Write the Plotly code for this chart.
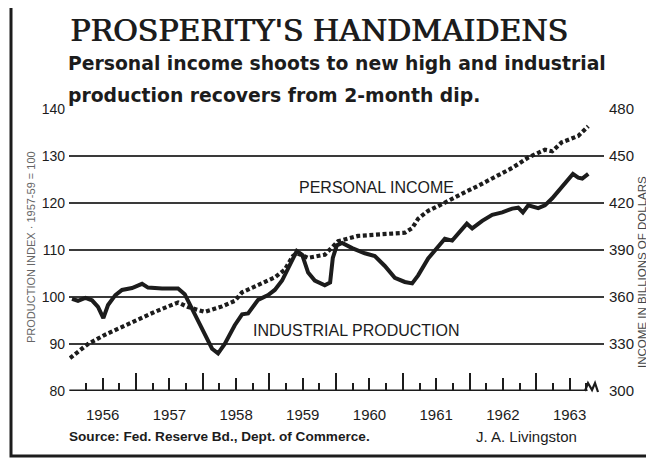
import plotly.graph_objects as go

# ---------------- data ----------------
# Industrial production index (left axis), time in decimal years
ip_t = [1956.04, 1956.13, 1956.24, 1956.34, 1956.43, 1956.51, 1956.58, 1956.69, 1956.79, 1956.94,
        1957.09, 1957.18, 1957.39, 1957.63, 1957.73, 1957.84, 1957.99, 1958.14, 1958.23, 1958.33,
        1958.48, 1958.59, 1958.68, 1958.83, 1958.98, 1959.08, 1959.19, 1959.31, 1959.41, 1959.49,
        1959.58, 1959.68, 1959.83, 1959.91, 1959.95, 1960.01, 1960.09, 1960.24, 1960.43, 1960.58,
        1960.73, 1960.88, 1961.03, 1961.14, 1961.23, 1961.38, 1961.53, 1961.63, 1961.74, 1961.89,
        1961.96, 1962.04, 1962.19, 1962.34, 1962.49, 1962.64, 1962.73, 1962.80, 1962.88, 1963.03,
        1963.13, 1963.24, 1963.38, 1963.48, 1963.55, 1963.63, 1963.69, 1963.78]
ip_v = [99.6, 99.2, 99.8, 99.3, 97.9, 95.5, 98.3, 100.4, 101.5, 101.9,
        102.8, 102.0, 101.8, 101.8, 100.6, 97.5, 93.3, 89.0, 88.0, 90.0,
        94.0, 96.3, 96.5, 99.4, 100.4, 101.5, 103.5, 106.9, 109.8, 109.0,
        105.2, 103.5, 102.5, 103.1, 108.3, 111.0, 111.5, 110.4, 109.3, 108.7,
        106.6, 104.1, 103.2, 102.9, 104.6, 108.2, 110.9, 112.4, 112.0, 114.5,
        115.6, 114.6, 116.2, 117.5, 118.0, 118.8, 119.0, 118.0, 119.5, 118.9,
        119.5, 121.0, 123.3, 125.2, 126.2, 125.4, 125.2, 126.2]

# Personal income, billions of dollars (right axis)
inc_t = [1956.01, 1956.28, 1956.54, 1956.79, 1957.03, 1957.28, 1957.54, 1957.63, 1957.78, 1958.03,
         1958.29, 1958.48, 1958.59, 1958.83, 1959.08, 1959.23, 1959.35, 1959.41, 1959.58, 1959.83,
         1959.93, 1960.03, 1960.33, 1960.58, 1960.84, 1961.03, 1961.14, 1961.23, 1961.38, 1961.53,
         1961.68, 1961.89, 1962.13, 1962.38, 1962.64, 1962.88, 1963.13, 1963.24, 1963.38, 1963.63,
         1963.78]
inc_v = [321, 330, 336, 341, 346, 350.5, 355, 356.5, 353.6, 350.5,
         354, 357.5, 363, 367.5, 372.5, 377.5, 386, 388, 385, 387,
         391, 395.6, 399, 400, 400.5, 401, 404, 410, 415, 418,
         421.5, 426, 431, 436.5, 442.4, 449, 454, 453, 458.7, 462.8,
         469]

years = [1956, 1957, 1958, 1959, 1960, 1961, 1962, 1963]
year_labels = ["1956", "1957", "1958", "1959", "1960", "1961", "1962", "1963"]
left_ticks = [80, 90, 100, 110, 120, 130, 140]
grid_vals = [90, 100, 110, 120, 130, 140]
right_ticks = [300, 330, 360, 390, 420, 450, 480]
axis_end = 1963.77

# ---------------- geometry ----------------
# the page body has an 8px margin, so the figure is drawn 8px in from the window corner
OFF = 8
W, H = 654 - OFF, 470 - OFF
L, T = 69 - OFF, 109 - OFF
R = W - (604 - OFF)
B = H - (391 - OFF)
PW, PH = W - L - R, H - T - B


def px(xr):
    """window x (reference pixels) -> paper x"""
    return (xr - OFF - L) / PW


def py(yr):
    """window y (reference pixels) -> paper y"""
    return (H - B - (yr - OFF)) / PH


INK = "#1c1c1c"
GRID = "#3a3a3a"

fig = go.Figure()
fig.add_trace(go.Scatter(x=ip_t, y=ip_v, mode="lines", name="Industrial production",
                         line=dict(color=INK, width=4), showlegend=False, hoverinfo="skip"))
fig.add_trace(go.Scatter(x=inc_t, y=inc_v, mode="lines", name="Personal income", yaxis="y2",
                         line=dict(color=INK, width=4.2, dash="4px,2.6px"), showlegend=False,
                         hoverinfo="skip"))
# carriers for helper axes (labels / gridlines)
fig.add_trace(go.Scatter(x=[None], y=[None], xaxis="x2", yaxis="y", showlegend=False, hoverinfo="skip"))
fig.add_trace(go.Scatter(x=[None], y=[None], xaxis="x", yaxis="y3", showlegend=False, hoverinfo="skip"))

quarters = [y + q for y in years for q in (0.25, 0.75)]
mid_years = [y + 0.5 for y in years]

font_num = "Liberation Sans"

fig.update_layout(
    width=W, height=H,
    margin=dict(l=L, r=R, t=T, b=B),
    paper_bgcolor="white", plot_bgcolor="white",
    xaxis=dict(range=[1955.995, 1964.016], tickvals=years, ticks="inside", ticklen=18,
               tickwidth=2, tickcolor=INK, showticklabels=False, showgrid=False,
               zeroline=False, showline=False,
               minor=dict(tickvals=[q for q in quarters if q <= axis_end], ticks="inside",
                          ticklen=8, tickwidth=2, tickcolor=INK, showgrid=False)),
    xaxis2=dict(overlaying="x", matches="x", anchor="y", side="bottom", tickvals=mid_years,
                ticktext=year_labels, ticks="inside", ticklen=13, tickwidth=2, tickcolor=INK,
                showgrid=False, zeroline=False, showline=False, ticklabelstandoff=13,
                tickfont=dict(family=font_num, size=15, color=INK)),
    yaxis=dict(range=[80, 140], tickvals=left_ticks, showgrid=False, zeroline=False,
               showline=False, ticks="", ticklabelstandoff=3,
               tickfont=dict(family=font_num, size=14, color=INK)),
    yaxis2=dict(overlaying="y", side="right", anchor="x", range=[300, 480], tickvals=right_ticks,
                showgrid=False, zeroline=False, showline=False, ticks="", ticklabelstandoff=4,
                tickfont=dict(family=font_num, size=15, color=INK)),
    yaxis3=dict(overlaying="y", matches="y", anchor="x", side="left", tickvals=grid_vals,
                showgrid=True, gridcolor=GRID, gridwidth=2, showticklabels=False, ticks="",
                zeroline=False, showline=False),
)

# baseline of the x axis with the break squiggle
fig.add_shape(type="line", xref="x", yref="y", x0=1956, x1=axis_end, y0=80, y1=80,
              line=dict(color=INK, width=3))
sq = [(585, 391), (588, 383), (592, 390), (595, 383), (598, 392)]
path = "M " + " L ".join(f"{px(a):.4f},{py(b):.4f}" for a, b in sq)
fig.add_shape(type="path", xref="paper", yref="paper", path=path, line=dict(color=INK, width=2.2))

# frame
fig.add_shape(type="rect", xref="paper", yref="paper", x0=px(11), x1=px(700), y0=py(456), y1=py(4),
              line=dict(color=INK, width=3))

ann = []
ann.append(dict(text="PROSPERITY'S HANDMAIDENS", x=px(68), y=py(31), xanchor="left", yanchor="middle",
                font=dict(family="DejaVu Serif", size=30, color=INK,
                          shadow="1px 0px 0px #1c1c1c")))
ann.append(dict(text="Personal income shoots to new high and industrial", x=px(66), y=py(63),
                xanchor="left", yanchor="middle",
                font=dict(family="DejaVu Sans", size=18.8, color=INK, weight="bold")))
ann.append(dict(text="production recovers from 2-month dip.", x=px(66), y=py(95),
                xanchor="left", yanchor="middle",
                font=dict(family="DejaVu Sans", size=18.8, color=INK, weight="bold")))
ann.append(dict(text="PERSONAL INCOME", x=px(376), y=py(187), xanchor="center", yanchor="middle",
                font=dict(family="Liberation Sans", size=16, color=INK)))
ann.append(dict(text="INDUSTRIAL PRODUCTION", x=px(356), y=py(330), xanchor="center", yanchor="middle",
                font=dict(family="Liberation Sans", size=16, color=INK)))
ann.append(dict(text="Source: Fed. Reserve Bd., Dept. of Commerce.", x=px(67), y=py(436),
                xanchor="left", yanchor="middle",
                font=dict(family="Liberation Sans", size=13.6, color=INK, weight="bold")))
ann.append(dict(text="J. A. Livingston", x=px(526), y=py(436), xanchor="center", yanchor="middle",
                font=dict(family="Liberation Sans", size=15, color=INK)))
ann.append(dict(text="PRODUCTION INDEX \u00b7 1957-59 = 100", x=px(31), y=py(247), textangle=-90,
                xanchor="center", yanchor="middle",
                font=dict(family="Liberation Sans", size=11, color="#666")))
ann.append(dict(text="INCOME IN BILLIONS OF DOLLARS", x=px(642), y=py(272), textangle=-90,
                xanchor="center", yanchor="middle",
                font=dict(family="Liberation Sans", size=11.5, color="#444")))
for a in ann:
    a.update(xref="paper", yref="paper", showarrow=False)
fig.update_layout(annotations=ann)

fig.write_html("out.html")
